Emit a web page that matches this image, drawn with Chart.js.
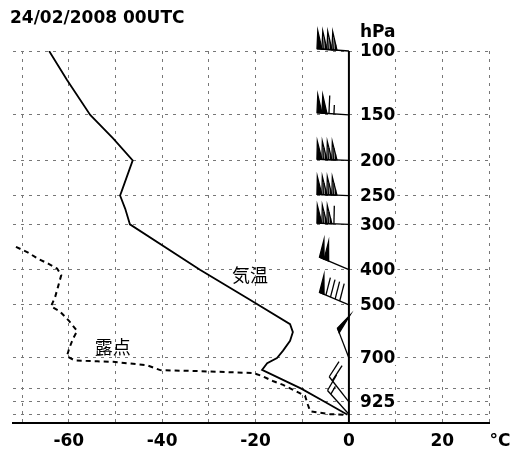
<!DOCTYPE html>
<html><head><meta charset="utf-8">
<script src="https://cdn.jsdelivr.net/npm/chart.js@4.4.0/dist/chart.umd.min.js"></script>
<style>html,body{margin:0;padding:0;background:#fff;}#wrap{width:511px;height:461px;position:relative;}</style>
</head><body><div id="wrap"><canvas id="c"></canvas></div>
<script>
const titleText = '24/02/2008 00UTC';
// Temperature profile (pressure hPa, temperature °C)
const tempP = [100,120,150,174,200,242,250,272,300,400,484,565,594,628,668,700,724,755,850,925,1003];
const tempT = [-64.2,-60.4,-55.4,-50.5,-46.3,-48.6,-49.0,-47.9,-46.9,-31.9,-21.2,-12.6,-12.0,-12.6,-14.1,-15.4,-17.5,-18.6,-10.2,-5.1,-0.3];
// Dew point profile
const dewP = [346,359,373,385,397,414,446,475,505,521,554,590,620,659,693,711,715,717,733,756,761,770,785,810,830,889,940,981,1000,1003];
const dewT = [-71.3,-68.7,-66.6,-64.4,-62.5,-61.6,-62.3,-62.9,-63.8,-61.9,-59.9,-58.2,-59.1,-59.9,-60.4,-58.7,-53.9,-50.5,-43.2,-40.4,-31.9,-20.5,-18.6,-16.3,-14.1,-9.4,-8.8,-8.3,-4.0,-0.5];
// Winds (pressure, direction deg, speed kt)
const windP = [100,150,200,250,300,400,500,700,925,1000];
const windDir = [274,274,272,272,272,293,293,339,322,318];
const windSpd = [200,115,200,200,160,100,90,50,20,15];
// Axes
const xTickValues = [-70,-60,-50,-40,-30,-20,-10,0,10,20,30];
const xTickLabels = ['','-60','','-40','','-20','','0','','20',''];
const yTickValues = [100,150,200,250,300,400,500,700,850,925,1000];
const yTickLabels = ['100','150','200','250','300','400','500','700','','925',''];
const xUnit = '°C';
const yUnit = 'hPa';
const tempLabel = {text:'気温', x:-21.2, y:414};
const dewLabel = {text:'露点', x:-50.6, y:653};

function drawBarb(ctx, x0, y0, dir, spd){
  const L = 32, FL = 18, PB = 5, BS = 5;
  const r = dir*Math.PI/180;
  const ux = Math.sin(r), uy = -Math.cos(r);
  const ex = x0 + ux*L, ey = y0 + uy*L;
  ctx.beginPath(); ctx.moveTo(x0,y0); ctx.lineTo(ex,ey); ctx.stroke();
  let fx = -uy, fy = ux - 0.6;
  const fn = Math.hypot(fx,fy); fx/=fn; fy/=fn;
  let n50 = Math.floor(spd/50); let rem = spd - n50*50;
  let n10 = Math.floor(rem/10); rem -= n10*10;
  const n5 = rem >= 5 ? 1 : 0;
  let d = 0;
  for (let i=0;i<n50;i++){
    const ax = ex - ux*d, ay = ey - uy*d;
    const bx = ex - ux*(d+PB), by = ey - uy*(d+PB);
    const tx = ax + fx*FL, ty = ay + fy*FL;
    ctx.beginPath(); ctx.moveTo(ax,ay); ctx.lineTo(tx,ty); ctx.lineTo(bx,by); ctx.closePath();
    if (i===0 || n50<=2){ ctx.fill(); ctx.stroke(); }
    else {
      ctx.stroke();
      [0.35,0.7].forEach(t=>{
        const px = ax+(bx-ax)*t, py = ay+(by-ay)*t;
        ctx.beginPath(); ctx.moveTo(px,py); ctx.lineTo(px+fx*FL*(1-t), py+fy*FL*(1-t)); ctx.stroke();
      });
    }
    d += PB;
  }
  if (n50>0 && (n10>0||n5>0)) d += 2;
  for (let i=0;i<n10;i++){
    const px = ex - ux*d, py = ey - uy*d;
    ctx.beginPath(); ctx.moveTo(px,py); ctx.lineTo(px+fx*FL, py+fy*FL); ctx.stroke();
    d += BS;
  }
  if (n5){
    if (d===0) d = BS;
    const px = ex - ux*d, py = ey - uy*d;
    ctx.beginPath(); ctx.moveTo(px,py); ctx.lineTo(px+fx*FL/2, py+fy*FL/2); ctx.stroke();
  }
}

const overlay = {
  id:'overlay',
  afterDatasetsDraw(chart){
    const {ctx, chartArea, scales:{x,y}} = chart;
    ctx.save();
    ctx.strokeStyle='#000'; ctx.fillStyle='#000'; ctx.lineWidth=1.3; ctx.lineJoin='miter';
    const x0 = x.getPixelForValue(0);
    for (let i=0;i<windP.length;i++) drawBarb(ctx, x0, y.getPixelForValue(windP[i]), windDir[i], windSpd[i]);
    ctx.font = 'bold 17px "DejaVu Sans"';
    ctx.textBaseline = 'middle'; ctx.textAlign = 'left';
    yTickValues.forEach((v,i)=>{
      const lab = yTickLabels[i]; if(!lab) return;
      const py = y.getPixelForValue(v);
      const w = ctx.measureText(lab).width;
      ctx.fillStyle='#fff'; ctx.fillRect(x0+9, py-7, w+4, 14);
      ctx.fillStyle='#000'; ctx.fillText(lab, x0+11, py+1);
    });
    ctx.fillText(yUnit, x0+11, y.getPixelForValue(100)-18);
    ctx.textAlign='center';
    ctx.fillText(xUnit, chartArea.right+11, x.top+8+10.2);
    ctx.textAlign='left';
    ctx.fillText(titleText, 10, 19);
    ctx.font = '18px "Noto Sans CJK JP"';
    ctx.textAlign='center';
    ctx.fillText(tempLabel.text, x.getPixelForValue(tempLabel.x), y.getPixelForValue(tempLabel.y));
    ctx.fillText(dewLabel.text, x.getPixelForValue(dewLabel.x), y.getPixelForValue(dewLabel.y));
    ctx.restore();
  }
};

new Chart(document.getElementById('c'), {
  type:'line',
  data:{datasets:[
    {label:'気温', data: tempP.map((p,i)=>({x:tempT[i], y:p})), borderColor:'#000', borderWidth:1.8, pointRadius:0, tension:0, fill:false},
    {label:'露点', data: dewP.map((p,i)=>({x:dewT[i], y:p})), borderColor:'#000', borderWidth:2, borderDash:[5,4], pointRadius:0, tension:0, fill:false},
    {label:'axis', data:[{x:0,y:100},{x:0,y:1057}], borderColor:'#000', borderWidth:2, pointRadius:0, fill:false}
  ]},
  options:{
    responsive:true, maintainAspectRatio:false, animation:false,
    layout:{padding:{top:51, left:12.7, right:22, bottom:1.6}},
    plugins:{legend:{display:false}, tooltip:{enabled:false}, title:{display:false}},
    scales:{
      x:{type:'linear', min:-72, max:30, bounds:'data',
        afterBuildTicks:s=>{s.ticks = xTickValues.map(v=>({value:v}));},
        grid:{color:'#777', lineWidth:1, drawTicks:false},
        border:{display:true, color:'#000', width:2, dash:[3,5]},
        ticks:{autoSkip:false, maxRotation:0, padding:8, color:'#000', font:{family:'DejaVu Sans', size:17, weight:'bold'}, callback:(v,i)=>xTickLabels[i]}
      },
      y:{type:'logarithmic', reverse:true, min:100, max:1057, bounds:'data',
        afterBuildTicks:s=>{s.ticks = yTickValues.map(v=>({value:v}));},
        grid:{color:'#777', lineWidth:1, drawTicks:false},
        border:{display:false, dash:[3,5]},
        ticks:{display:false}
      }
    }
  },
  plugins:[overlay]
});
</script></body></html>
